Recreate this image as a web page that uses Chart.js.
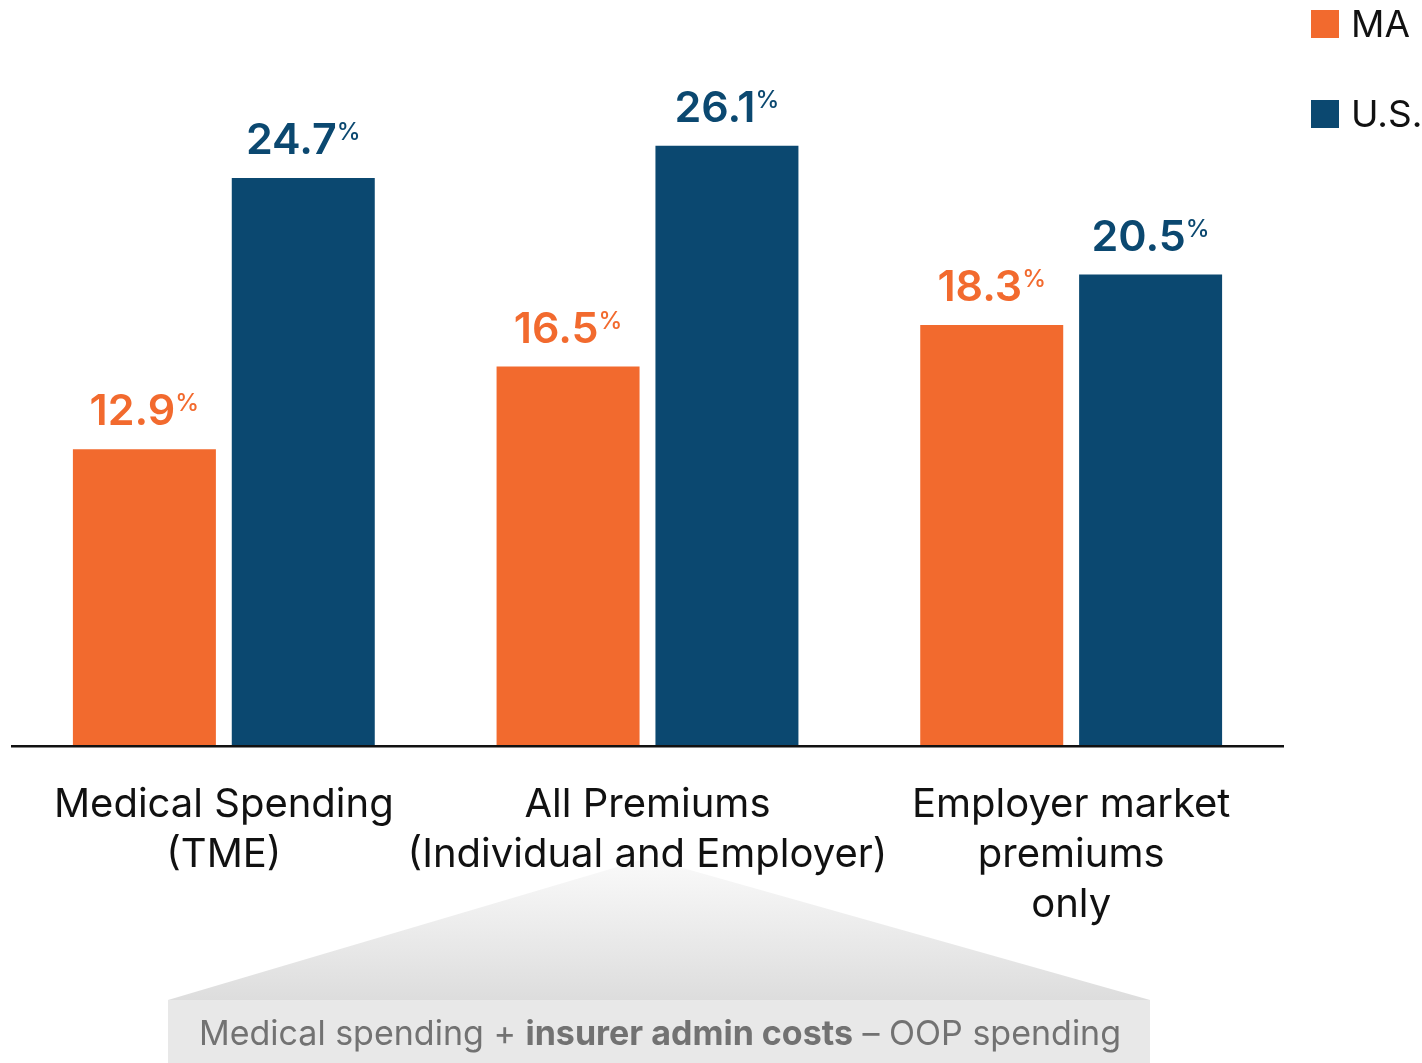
<!DOCTYPE html>
<html>
<head>
<meta charset="utf-8">
<script src="https://cdn.jsdelivr.net/npm/chart.js@4"></script>
<style>
  html, body { margin: 0; padding: 0; background: #fff; }
  #wrap { width: 1422px; height: 1063px; position: relative; }
</style>
</head>
<body>
<div id="wrap"><canvas id="growthChart" width="1422" height="1063"></canvas></div>
<script>
const categories = [
  ['Medical Spending', '(TME)'],
  ['All Premiums', '(Individual and Employer)'],
  ['Employer market', 'premiums', 'only']
];
const maValues = [12.9, 16.5, 18.3];
const usValues = [24.7, 26.1, 20.5];
const seriesNames = ['MA', 'U.S.'];

const ORANGE = '#f26a2e';
const NAVY = '#0b4870';
const FONT = 'Inter, "Noto Sans", sans-serif';

// value labels with a small raised percent sign
const valueLabels = {
  id: 'valueLabels',
  afterDatasetsDraw(chart) {
    const ctx = chart.ctx;
    chart.data.datasets.forEach((ds, i) => {
      chart.getDatasetMeta(i).data.forEach((bar, j) => {
        const num = ds.data[j].toFixed(1);
        ctx.save();
        ctx.fillStyle = ds.backgroundColor;
        ctx.textBaseline = 'alphabetic';
        ctx.textAlign = 'left';
        ctx.font = '600 43px ' + FONT;
        const w1 = ctx.measureText(num).width;
        ctx.font = '500 24px ' + FONT;
        const w2 = ctx.measureText('%').width;
        const x0 = bar.x - (w1 + w2) / 2;
        const base = bar.y - 24;
        ctx.font = '600 43px ' + FONT;
        ctx.fillText(num, x0, base);
        ctx.font = '500 24px ' + FONT;
        ctx.fillText('%', x0 + w1, base - 14);
        ctx.restore();
      });
    });
  }
};

// formula callout under the middle group: wedge + grey box go under the axis text
const callout = {
  id: 'callout',
  beforeDraw(chart) {
    const ctx = chart.ctx;
    const cx = chart.scales.x.getPixelForValue(1);
    ctx.save();
    const grad = ctx.createLinearGradient(0, 858, 0, 1000);
    grad.addColorStop(0, '#fafafa');
    grad.addColorStop(1, '#dddddd');
    ctx.fillStyle = grad;
    ctx.beginPath();
    ctx.moveTo(cx, 858);
    ctx.lineTo(1150, 1000);
    ctx.lineTo(168, 1000);
    ctx.closePath();
    ctx.fill();
    ctx.fillStyle = '#e8e8e8';
    ctx.fillRect(168, 1000, 982, 63);
    ctx.restore();
  },
  afterDraw(chart) {
    const ctx = chart.ctx;
    ctx.save();
    const parts = [
      ['Medical spending + ', '400'],
      ['insurer admin costs', '700'],
      [' \u2013 OOP spending', '400']
    ];
    let total = 0;
    parts.forEach(p => {
      ctx.font = p[1] + ' 34px ' + FONT;
      p.push(ctx.measureText(p[0]).width);
      total += p[2];
    });
    let x = 660 - total / 2;
    ctx.fillStyle = '#727272';
    ctx.textBaseline = 'alphabetic';
    parts.forEach(p => {
      ctx.font = p[1] + ' 34px ' + FONT;
      ctx.fillText(p[0], x, 1045);
      x += p[2];
    });

    // legend in the top right corner
    const colors = [ORANGE, NAVY];
    seriesNames.forEach((name, i) => {
      const y = 10 + i * 90;
      ctx.fillStyle = colors[i];
      ctx.fillRect(1311, y, 28, 28);
      ctx.fillStyle = '#111';
      ctx.font = '37px ' + FONT;
      ctx.fillText(name, 1351, y + 27);
    });
    ctx.restore();
  }
};

new Chart(document.getElementById('growthChart'), {
  type: 'bar',
  data: {
    labels: categories,
    datasets: [
      { label: seriesNames[0], data: maValues, backgroundColor: ORANGE },
      { label: seriesNames[1], data: usValues, backgroundColor: NAVY }
    ]
  },
  options: {
    responsive: false,
    animation: false,
    layout: { padding: { top: 56, left: 12, right: 139, bottom: 0 } },
    categoryPercentage: 0.75,
    barPercentage: 0.9,
    scales: {
      x: {
        grid: { display: false, drawTicks: false },
        border: { display: true, color: '#111', width: 2.5, z: 1 },
        ticks: {
          color: '#111',
          padding: 34,
          font: { family: FONT, size: 40, lineHeight: '50px' },
          maxRotation: 0,
          autoSkip: false
        },
        afterFit(scale) { scale.height = 317; }
      },
      y: { display: false, min: 0, max: 30 }
    },
    plugins: {
      legend: { display: false },
      tooltip: { enabled: false }
    }
  },
  plugins: [valueLabels, callout]
});
</script>
</body>
</html>
